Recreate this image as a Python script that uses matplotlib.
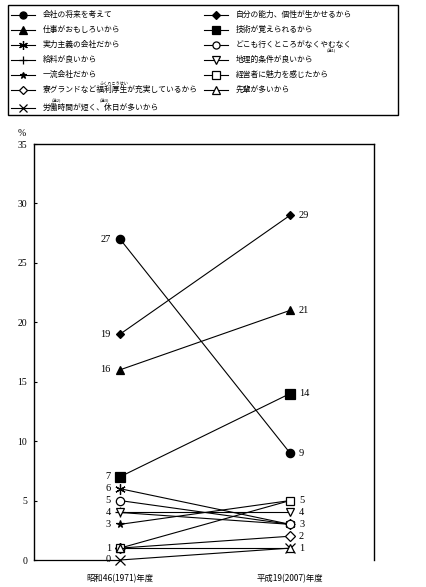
import matplotlib
matplotlib.use("Agg")
import matplotlib.pyplot as plt
from matplotlib.patches import Rectangle

JP = ['Noto Sans CJK JP', 'DejaVu Sans']
SERIF = ['Liberation Serif', 'DejaVu Serif']

years = ['昭和46(1971)年度', '平成19(2007)年度']
reasons = [
    '会社の将来を考えて',
    '仕事がおもしろいから',
    '実力主義の会社だから',
    '給料が良いから',
    '一流会社だから',
    '寮グランドなど福利厚生が充実しているから',
    '労働時間が短く、休日が多いから',
    '自分の能力、個性が生かせるから',
    '技術が覚えられるから',
    'どこも行くところがなくやむなく',
    '地理的条件が良いから',
    '経営者に魅力を感じたから',
    '先輩が多いから',
]
v1971 = [27, 16, 6, 4, 3, 1, 0, 19, 7, 5, 4, 1, 1]
v2007 = [9, 21, 3, 3, 5, 2, 1, 29, 14, 3, 4, 5, 1]
yticks = [0, 5, 10, 15, 20, 25, 30, 35]

# marker style per series: (marker, size, filled)
styles = [
    ('o', 6, True),
    ('^', 6, True),
    ((6, 2, 0), 7.5, True),
    ('+', 7.5, True),
    ('*', 5.5, True),
    ('D', 5, False),
    ('x', 6.5, True),
    ('D', 4.5, True),
    ('s', 6.5, True),
    ('o', 6, False),
    ('v', 6, False),
    ('s', 6, False),
    ('^', 6, False),
]

W, H = 426, 587
fig = plt.figure(figsize=(W / 100, H / 100), dpi=100)

def mk(ax, x, y, st, **kw):
    m, s, filled = st
    ax.plot(x, y, color='black', lw=0.8, marker=m, markersize=s,
            markerfacecolor='black' if filled else 'white',
            markeredgecolor='black', markeredgewidth=0.9, **kw)

# ---- main axes ----
x0, x1, ytop, ybot = 34, 374, 144, 560
ax = fig.add_axes([x0 / W, 1 - ybot / H, (x1 - x0) / W, (ybot - ytop) / H])
ax.set_xlim(-0.506, 1.494)
ax.set_ylim(0, 35)
for i in range(len(reasons)):
    mk(ax, [0, 1], [v1971[i], v2007[i]], styles[i], clip_on=False, zorder=3)

for v in sorted(set(v1971)):
    ax.annotate(str(v), (0, v), xytext=(-6.5, 0), textcoords='offset points',
                ha='right', va='center', fontsize=7.5, family=SERIF)
for v in sorted(set(v2007)):
    ax.annotate(str(v), (1, v), xytext=(6.5, 0), textcoords='offset points',
                ha='left', va='center', fontsize=7.5, family=SERIF)

# short baseline at 0 from the left axis to the first year
ax.plot([-0.506, 0], [0, 0], color='black', lw=0.9, clip_on=False)

ax.spines['bottom'].set_visible(False)
for s in ['left', 'top', 'right']:
    ax.spines[s].set_linewidth(1.0)
ax.set_yticks(yticks)
ax.set_yticklabels([str(t) for t in yticks], family=SERIF, fontsize=7)
ax.tick_params(axis='y', direction='in', length=2.5, width=0.8, pad=5)
ax.set_xticks([0, 1])
ax.set_xticklabels(years, family=JP, fontsize=6)
ax.tick_params(axis='x', length=0, pad=10)
ax.text(-0.035, 1.015, '%', transform=ax.transAxes, fontsize=7, family=SERIF,
        ha='center', va='bottom')

# ---- legend (drawn in pixel coordinates) ----
lg = fig.add_axes([0, 0, 1, 1])
lg.set_xlim(0, W)
lg.set_ylim(H, 0)
lg.axis('off')
lg.add_patch(Rectangle((8, 5), 390, 110, fill=False, lw=1.0, ec='black'))
left_rows = [15, 29.5, 44.5, 59.5, 74.5, 90, 108]
right_rows = [15, 29.5, 44.5, 59.5, 74.5, 90]
for i, lab in enumerate(reasons):
    if i < 7:
        y = left_rows[i]; xa, xb, xt = 11, 35, 43
    else:
        y = right_rows[i - 7]; xa, xb, xt = 204, 228, 236
    lg.plot([xa, xb], [y, y], color='black', lw=0.8)
    m, s, filled = styles[i]
    lg.plot([(xa + xb) / 2], [y], marker=m, markersize=s * 0.85,
            markerfacecolor='black' if filled else 'white',
            markeredgecolor='black', markeredgewidth=0.9, color='black')
    lg.text(xt, y, lab, family=JP, fontsize=5.6, va='center', ha='left')

lg.text(114, 84.5, 'ふくりこうせい', family=JP, fontsize=3, ha='center', va='center')
lg.text(56, 101, '(注2)', family=JP, fontsize=3, ha='center', va='center')
lg.text(104, 101, '(注3)', family=JP, fontsize=3, ha='center', va='center')
lg.text(331, 51, '(注1)', family=JP, fontsize=3, ha='center', va='center')

fig.savefig('out.png', dpi=100, facecolor='white')
